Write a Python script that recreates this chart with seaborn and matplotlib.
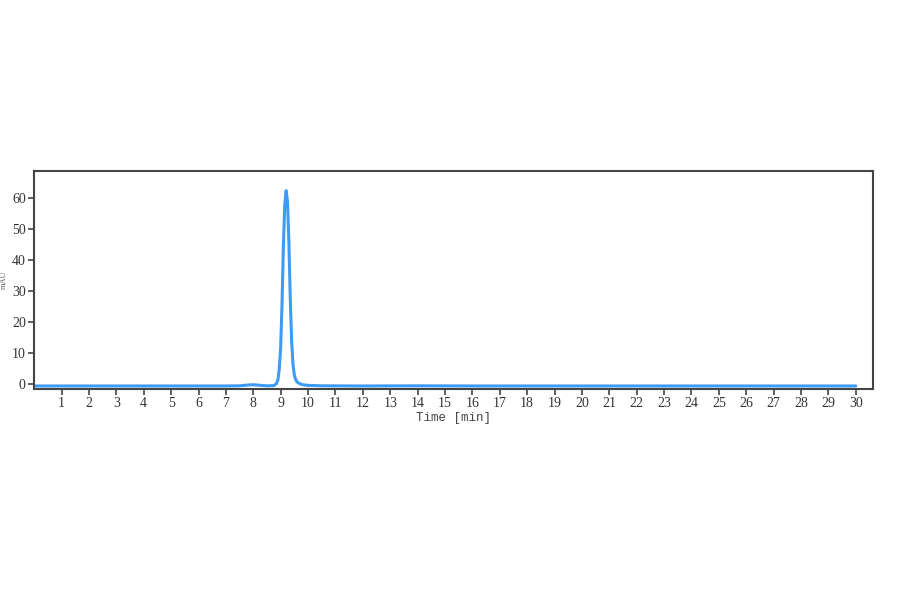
import numpy as np
import pandas as pd
import seaborn as sns
import matplotlib.pyplot as plt

# chromatogram trace (time in min, signal in mAU)
time_min = [0.0, 2.0, 4.0, 6.0, 7.0, 7.5, 7.8, 8.0, 8.2, 8.5, 8.75, 8.85, 8.9, 8.95,
            9.0, 9.05, 9.1, 9.15, 9.2, 9.25, 9.3, 9.35, 9.4, 9.45, 9.5, 9.55, 9.6,
            9.7, 9.8, 10.0, 10.5, 12.0, 14.0, 16.0, 20.0, 25.0, 30.0]
signal_mau = [-0.5, -0.5, -0.5, -0.5, -0.5, -0.45, -0.2, -0.1, -0.25, -0.45, -0.4, 0.3, 1.5, 5.0,
              12.0, 26.0, 45.0, 58.0, 62.5, 59.0, 46.0, 28.0, 14.0, 6.5, 3.0, 1.5, 0.8,
              0.2, -0.1, -0.3, -0.45, -0.5, -0.45, -0.5, -0.5, -0.5, -0.5]
x_ticks = list(range(1, 31))
y_ticks = [0, 10, 20, 30, 40, 50, 60]

df = pd.DataFrame({"Time": time_min, "mAU": signal_mau})

sns.set_style("white")
plt.rcParams["font.family"] = ["Liberation Serif", "DejaVu Serif"]

fig = plt.figure(figsize=(9, 5.94), dpi=100)
ax = fig.add_axes([0.038, 0.345, 0.932, 0.367])

sns.lineplot(data=df, x="Time", y="mAU", ax=ax, color="#3d9bf5", linewidth=2.2)

ax.set_xlim(0, 30.63)
ax.set_ylim(-1.5, 68.8)
ax.set_xticks(x_ticks)
ax.set_xticklabels([str(t) for t in x_ticks])
ax.set_yticks(y_ticks)
ax.tick_params(axis="both", direction="out", length=4, width=1.2, color="#444444",
               labelsize=10, labelcolor="#333333", pad=2, bottom=True, left=True)

for s in ax.spines.values():
    s.set_color("#444444")
    s.set_linewidth(1.5)

ax.set_xlabel("Time [min]", family="Liberation Mono", fontsize=9, color="#444444", labelpad=1)
ax.set_ylabel("mAU", fontsize=6, color="#666666")
ax.yaxis.set_label_coords(-0.031, 0.5)

fig.savefig("out.png", dpi=100, facecolor="white")
